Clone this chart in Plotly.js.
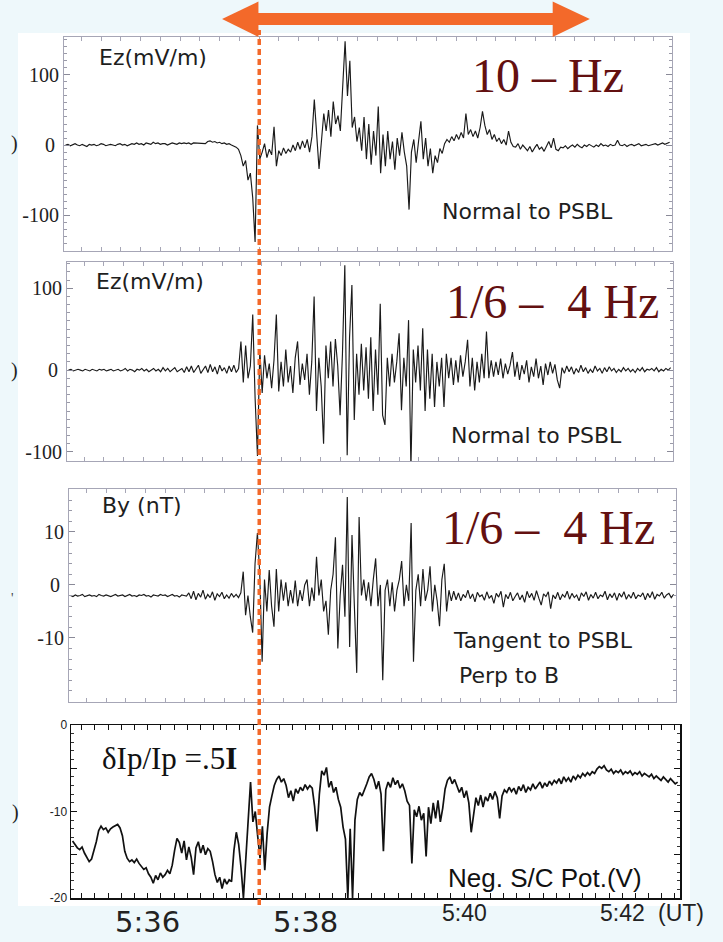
<!DOCTYPE html>
<html>
<head>
<meta charset="utf-8">
<script src="https://cdn.plot.ly/plotly-3.0.1.min.js"></script>
<style>
  html, body { margin: 0; padding: 0; background: #eef8fb; }
  #chart { width: 723px; height: 942px; }
</style>
</head>
<body>
<div id="chart"></div>
<script>
// Sample clock: minutes after 05:00 UT, one sample every 1.8 s
const T_START = 35.05;
const T_STEP = 0.03;
const TIME_RANGE = [35.03, 42.73];

// Ez, 10 Hz high-pass, normal to PSBL (mV/m)
const ezHigh = [
  0,1,-1,0,2,0,-1,1,0,-2, 1,0,1,-1,0,2,1,-1,0,1,
  0,-1,1,2,0,1,-1,0,2,1, 3,1,2,0,3,2,1,4,2,3,
  1,2,2,0,2,3,2,1,3,2, 3,2,3,1,3,3,2,3,3,2,
  5,6,4,5,3,4,2,3,1,2, 0,-1,-3,
  -6,-15,-30,-22,-50,-40,-75,-138,28,-20,
  -10,2,-18,-6,-14,26,-30,-8,-15,-4, -12,-6,-10,0,-8,4,-6,
  6,-4,8,-10,12,
  65,10,-34,5,45,20,50,12,62,30, 42,20,90,148,70,120,25,40,5,25,
  -8,40,-20,30,-28,20,-15,55,-40,15, -30,20,-20,5,-35,10,-15,18,-10,-30,
  -92,-10,8,-25,5,34,-20,10,-30,-5, -40,-15,-25,-5,-12,2,8,4,12,6,
  15,8,18,10,45,15,22,12,20,10, 25,48,28,15,22,8,15,5,10,2,
  8,0,20,4,-2,
  -3,2,-6,0,-4,-8,-2,-10,-4,1, -6,-3,-9,-2,5,-4,10,-6,-8,-3,
  -4,-1,-5,-2,0,-3,1,-2,-4,0, -2,1,-1,-3,0,-2,2,-1,0,-2,
  1,-1,0,7,0,-1,1,-2,0,1, -1,0,2,-1,0,1,-1,0,1,2,
  0,1,3,1,2,4
];

// Ez, 1/6 - 4 Hz band, normal to PSBL (mV/m)
const ezBand = [
  0,1,-1,0,1,0,-1,1,0,-1, 1,0,-1,1,0,1,-1,0,1,-1,
  0,1,-1,0,2,-1,1,0,-2,1, 0,2,-1,1,-2,0,2,-1,1,-2,
  3,-1,2,-2,1,3,-2,0,2,-3,
  4,-2,5,-3,2,6,-4,1,5,-3, 7,-2,4,-5,6,-1,3,-4,5,-2, 6,-3,2,
  35,-15,30,-10,5,68,-34,-105,25,-28, 18,-10,8,-22,12,68,-26,
  10,-20,25,-15,5,-28,15,35,-18,8, -12,20,-30,10,90,-50,15,-20,-90,30,
  -10,35,-20,38,5,-55,20,128,-104,40, 104,-61,20,-30,32,-25,28,-35,40,-50,
  25,-30,81,-55,-67,15,-20,20,-15,10, 45,-49,15,-20,61,-120,25,-15,30,-25,
  51,-50,25,-35,20,-45,10,-20,15,-45, 20,-10,15,-18,12,-15,18,-8,10,37,
  -20,15,-25,10,-15,20,-10,47,-10,12, -8,10,-6,14,-10,8,-5,6,22,-8,
  10,-12,6,-5,12,-15,4,-8,14,-10, 5,-18,8,-6,10,-4,7,-12,-22,
  3,-4,5,-2,4,-5,2,-3,6,-2, 3,-4,1,-3,5,-1,2,-4,3,-2,
  4,-1,2,-3,1,-2,3,-1,2,-2, 1,-3,2,-1,3,-2,1,0,2,-1,
  3,-2,1,-1,2,0,3
];

// By, 1/6 - 4 Hz band, tangent to PSBL, perpendicular to B (nT)
const byBand = [
  -2,-2.2,-1.9,-2.1,-2,-1.8,-2.2,-2,-1.9,-2.1, -2,-2.2,-1.8,-2,-2.1,-1.9,-2,-2.2,-2,-1.8,
  -2.1,-2,-1.9,-2.2,-2,-1.8,-2.1,-2,-2.2,-1.9, -2,-1.8,-2.1,-2,-2.3,-1.9,-2,-2.1,-1.8,-2,
  -1.9,-2.2,-2,-1.8,-2.1,-2,-2.3,-1.9,-2,-2.1,
  -1.5,-2.6,-1.2,-2.8,-1.6,-2.3,-1,-2.7,-1.8,-2.4, -1.3,-2.9,-1.7,-2.2,-1.4,-2.6,-1.9,-2.5,-1.6,-2.3,
  -1.8,-2.4,
  -1.5,2.5,-5.7,-2,-6,-9,4,9.8,2,-14.5, 1,-5,2.8,-4,-7.9,3,-5,1,-3,0.5,
  -4,-1,-3.5,0.8,-4,-1,-3,0,1,-4, -0.5,-3,5.3,-2,1,-5,-3,-9.4,-1,2,
  9,-12,-2,3.8,-6,16.6,-11.7,9.4,-4,-16.6, 12.8,-2,1,-3,0.5,-4,1,5,-4,0,
  -18,-1,1,-4,0.5,-5,-1,1,4.5,-4, 0,-3,11.7,-14.5,-1,2,-4,3,-3,-1,
  3.5,-5,0,-3,-7.8,1,4,-5,-1,-3,
  -1.2,-2.8,-1.5,-3,-1.8,-2.4,-1,-2.6,-1.7,-3.2, -1.4,-2.2,-1.9,-2.9,-1.3,-2.5,-2,-3.5,-1.6,-2.3,
  -1.2,-4.2,-1.8,-2.6,-1.4,-3,-2.2,-1.5,-2.8,-1.9, -3.3,-1.2,-2.4,-1.6,-2.9,-1.1,-2.5,-3.8,-1.7,-2.2,
  -1.3,-4.5,-1.9,-2.6,-1.4,-2.8,-1.8,-2.3,-1.2,-2.7, -1.6,-2.4,-1.9,-3,-1.5,-2.2,-1.3,-2.9,-1.8,-2.5,
  -1.4,-2.6,-1.9,-2.2,-1.2,-2.8,-1.7,-2.4,-1.5,-2.9, -1.6,-2.3,-1.3,-2.7,-1.8,-2.5,-1.4,-2.6,-1.9,-2.2,
  -1.5,-2.8,-1.6,-2.4,-1.3,-2.7,-1.8,-2.1,-1.4,-2.5, -1.9,-1.6,-2.4,-1.8
];

// Negative spacecraft potential (V)
const scPot = [
  -13.4,-13.8,-14.2,-14.4,-14.1,-14.8,-15.4,-15.8,-15.5,-14.6,
  -13.5,-12.2,-11.7,-12.1,-11.9,-12.4,-12.0,-11.8,-11.6,-11.5,
  -11.9,-12.8,-14.6,-15.4,-15.8,-15.6,-15.9,-15.5,-16.0,-16.4,
  -16.7,-16.5,-17.2,-17.6,-18.3,-17.4,-17.9,-17.1,-17.6,-17.3,
  -16.8,-17.2,-16.2,-14.5,-13.1,-13.6,-14.8,-13.4,-15.6,-14.1,
  -15.3,-17.3,-14.2,-13.5,-14.8,-13.9,-15.0,-14.3,-14.6,-15.8,
  -17.3,-18.2,-17.6,-18.9,-17.8,-18.4,-17.9,-18.1,-14.5,-12.4,
  -13.8,-16.5,-20.0,-15.5,-10.5,-6.6,-11.2,-10.0,-12.8,-15.4,
  -11.7,-16.8,-12.5,-9.5,-8.2,-7.0,-6.3,-5.9,-6.6,-6.2,
  -7.0,-8.4,-7.6,-8.8,-7.4,-7.9,-7.2,-7.6,-6.9,-7.4,
  -7.0,-7.3,-9.4,-12.3,-8.0,-5.3,-5.8,-4.9,-7.2,-6.5,
  -7.8,-7.2,-8.6,-9.5,-11.8,-13.2,-20.0,-12.0,-20.0,-11.0,
  -8.6,-7.8,-8.2,-7.6,-6.8,-6.0,-5.6,-6.3,-7.4,-6.5,
  -8.0,-14.6,-7.5,-6.6,-7.2,-6.1,-6.9,-6.4,-7.3,-6.8,
  -7.6,-8.8,-9.3,-16.0,-9.8,-10.6,-9.4,-11.0,-10.2,-15.2,
  -9.5,-11.4,-9.0,-10.8,-8.7,-11.2,-9.6,-7.4,-6.4,-6.0,
  -6.8,-6.3,-7.1,-7.8,-7.2,-8.4,-7.6,-9.0,-12.4,-10.1,
  -8.4,-9.3,-8.1,-9.5,-8.3,-8.8,-7.9,-8.6,-7.7,-8.4,
  -10.8,-8.2,-7.5,-7.8,-7.2,-7.7,-7.3,-8.0,-7.1,-7.6,
  -6.9,-7.8,-7.2,-7.5,-6.8,-7.4,-7.0,-6.6,-7.3,-6.7,
  -7.1,-6.5,-6.9,-6.4,-6.7,-6.2,-6.8,-6.0,-6.5,-6.1,
  -6.6,-5.9,-6.3,-5.8,-6.1,-5.6,-5.9,-5.5,-5.8,-5.4,
  -5.6,-5.1,-4.8,-5.0,-4.7,-5.2,-5.4,-5.1,-5.6,-5.3,
  -5.5,-5.2,-5.7,-5.4,-5.6,-5.3,-5.8,-5.5,-5.7,-5.4,
  -5.9,-5.6,-5.8,-6.0,-5.7,-6.2,-5.9,-6.1,-6.4,-6.0,
  -6.3,-6.6,-6.2,-6.5,-6.8,-6.6
];

// Time axis labels
const timeTicks = [36, 38, 40, 42];
const timeText = ['5:36', '5:38', '5:40', '5:42'];

// Y tick labels per panel
const ezHighTicks = [-100, 0, 100];
const ezHighText = ['-100', '0\u2009', '100'];
const ezBandTicks = [-100, 0, 100];
const ezBandText = ['-100', '0\u2009', '100'];
const byTicks = [-10, 0, 10];
const byText = ['-10', '0\u2009', '10'];
const potTicks = [0, -5, -10, -15, -20];
const potText = ['0', '', '-10', '', '-20'];

// Interval marked by the double arrow and the onset time marked by the dashed line
const markedSpan = [36.94, 41.59];
const onsetTime = 37.41;

const W = 723, H = 942;
const px = v => v / W;
const py = v => 1 - v / H;
const sampleTimes = arr => arr.map((_, i) => +(T_START + i * T_STEP).toFixed(3));

const traceStyle = { color: '#1a1a1a', width: 1.15 };
const traces = [
  { x: sampleTimes(ezHigh), y: ezHigh, xaxis: 'x', yaxis: 'y', mode: 'lines', line: traceStyle, hoverinfo: 'skip' },
  { x: sampleTimes(ezBand), y: ezBand, xaxis: 'x2', yaxis: 'y2', mode: 'lines', line: traceStyle, hoverinfo: 'skip' },
  { x: sampleTimes(byBand), y: byBand, xaxis: 'x3', yaxis: 'y3', mode: 'lines', line: traceStyle, hoverinfo: 'skip' },
  { x: sampleTimes(scPot), y: scPot, xaxis: 'x4', yaxis: 'y4', mode: 'lines',
    line: { color: '#111', width: 1.7 }, hoverinfo: 'skip' }
];

const frameColor = '#a6a6b6';
function timeAxis(domain, anchor, color, width, dtick) {
  return {
    domain, anchor, range: TIME_RANGE, showline: true, mirror: 'allticks',
    linecolor: color, linewidth: width, ticks: 'inside', ticklen: 4, tickcolor: color,
    tick0: 35, dtick, showticklabels: false, showgrid: false, zeroline: false, fixedrange: true
  };
}
function valueAxis(domain, anchor, range, vals, text, minorStep, font) {
  return {
    domain, anchor, range, showline: true, mirror: 'allticks',
    linecolor: frameColor, linewidth: 1, ticks: 'inside', ticklen: 6, tickcolor: '#8a8a98',
    tickmode: 'array', tickvals: vals, ticktext: text, tickfont: font,
    minor: { ticks: 'inside', dtick: minorStep, ticklen: 3, tickcolor: '#9a9aa8' },
    showgrid: false, zeroline: false, fixedrange: true
  };
}

const serifTick = { family: 'Liberation Serif, serif', size: 20, color: '#222' };

const layout = {
  width: W, height: H,
  margin: { l: 0, r: 0, t: 0, b: 0 },
  paper_bgcolor: '#eef8fb',
  plot_bgcolor: '#ffffff',
  showlegend: false,
  xaxis:  timeAxis([px(64), px(672)], 'y', frameColor, 1, 0.25),
  xaxis2: timeAxis([px(67), px(673)], 'y2', frameColor, 1, 0.25),
  xaxis3: timeAxis([px(69), px(676)], 'y3', frameColor, 1, 0.25),
  xaxis4: Object.assign(timeAxis([px(71), px(680)], 'y4', '#111', 1.5, 1 / 6), { ticklen: 5 }),
  yaxis:  valueAxis([py(251), py(37)], 'x', [-151, 154], ezHighTicks, ezHighText, 10, serifTick),
  yaxis2: valueAxis([py(461), py(262)], 'x2', [-111, 132], ezBandTicks, ezBandText, 10, serifTick),
  yaxis3: valueAxis([py(702), py(489)], 'x3', [-22.1, 18.1], byTicks, byText, 2, serifTick),
  yaxis4: Object.assign(
    valueAxis([py(898), py(725)], 'x4', [-20, 0], potTicks, potText, 1,
      { family: 'Liberation Sans, Arial, sans-serif', size: 12, color: '#222' }),
    { linecolor: '#111', linewidth: 1.5, tickcolor: '#111',
      minor: { ticks: 'inside', dtick: 1, ticklen: 3, tickcolor: '#333' } }),
  shapes: [
    // white sheet behind the panels
    { type: 'rect', xref: 'paper', yref: 'paper', x0: px(18), x1: px(690), y0: py(906), y1: py(33),
      fillcolor: '#ffffff', line: { width: 0 }, layer: 'below' },
    // onset marker
    { type: 'line', xref: 'x4', yref: 'paper', x0: onsetTime, x1: onsetTime, y0: py(905), y1: py(30),
      line: { color: '#f3692a', width: 3.5, dash: '6px,4px' } },
    // double arrow shaft and heads
    { type: 'rect', xref: 'x4', yref: 'paper', x0: markedSpan[0] + 0.45, x1: markedSpan[1] - 0.46,
      y0: py(25), y1: py(13), fillcolor: '#f3692a', line: { width: 0 } },
    { type: 'path', xref: 'x4', yref: 'paper',
      path: `M${markedSpan[0]},${py(19)} L${markedSpan[0] + 0.46},${py(1.5)} L${markedSpan[0] + 0.46},${py(37)} Z`,
      fillcolor: '#f3692a', line: { width: 0 } },
    { type: 'path', xref: 'x4', yref: 'paper',
      path: `M${markedSpan[1]},${py(19)} L${markedSpan[1] - 0.47},${py(1.5)} L${markedSpan[1] - 0.47},${py(37)} Z`,
      fillcolor: '#f3692a', line: { width: 0 } }
  ],
  annotations: []
};

const sans = (size, color) => ({ family: 'DejaVu Sans, sans-serif', size, color: color || '#1e1e1e' });
const bandFont = { family: 'Liberation Serif, serif', size: 48, color: '#631010' };
function note(text, x, y, font, xanchor) {
  layout.annotations.push({ text, xref: 'paper', yref: 'paper', x: px(x), y: py(y),
    xanchor: xanchor || 'left', yanchor: 'middle', showarrow: false, font });
}

note('Ez(mV/m)', 97, 58, sans(22));
note('10 – Hz', 548, 76, bandFont, 'center');
note('Normal to PSBL', 440, 212, sans(22));

note('Ez(mV/m)', 94, 282, sans(22));
note('1/6 –  4 Hz', 552, 302, bandFont, 'center');
note('Normal to PSBL', 449, 435, sans(22));

note('By (nT)', 100, 505, sans(22));
note('1/6 –  4 Hz', 548, 527, bandFont, 'center');
note('Tangent to PSBL', 451, 640, sans(22));
note('Perp to B', 457, 675, sans(22));

note('δIp/Ip =.5<b>I</b>', 100, 758, { family: 'Liberation Serif, serif', size: 31, color: '#111' });
note('Neg. S/C Pot.(V)', 446, 878, { family: 'Liberation Sans, sans-serif', size: 26, color: '#111' });

// clipped remains of the original left-hand axis titles
note(')', 14, 144, { family: 'Liberation Serif, serif', size: 20, color: '#222' }, 'center');
note(')', 14, 370, { family: 'Liberation Serif, serif', size: 20, color: '#222' }, 'center');
note("'", 13, 598, { family: 'Liberation Serif, serif', size: 14, color: '#444' }, 'center');
note(')', 15, 812, { family: 'Liberation Serif, serif', size: 20, color: '#222' }, 'center');

// time labels along the bottom axis
timeTicks.forEach((t, i) => {
  const big = i < 2;
  layout.annotations.push({
    text: timeText[i], xref: 'x4', yref: 'paper', x: t, y: py(big ? 922 : 913),
    xanchor: 'center', yanchor: 'middle', showarrow: false,
    font: big ? { family: 'DejaVu Sans, sans-serif', size: 29, color: '#222' }
              : { family: 'Liberation Sans, sans-serif', size: 23, color: '#222' }
  });
});
note('(UT)', 681, 913, { family: 'Liberation Sans, sans-serif', size: 23, color: '#222' }, 'center');

Plotly.newPlot('chart', traces, layout, { staticPlot: true, displayModeBar: false });
</script>
</body>
</html>
